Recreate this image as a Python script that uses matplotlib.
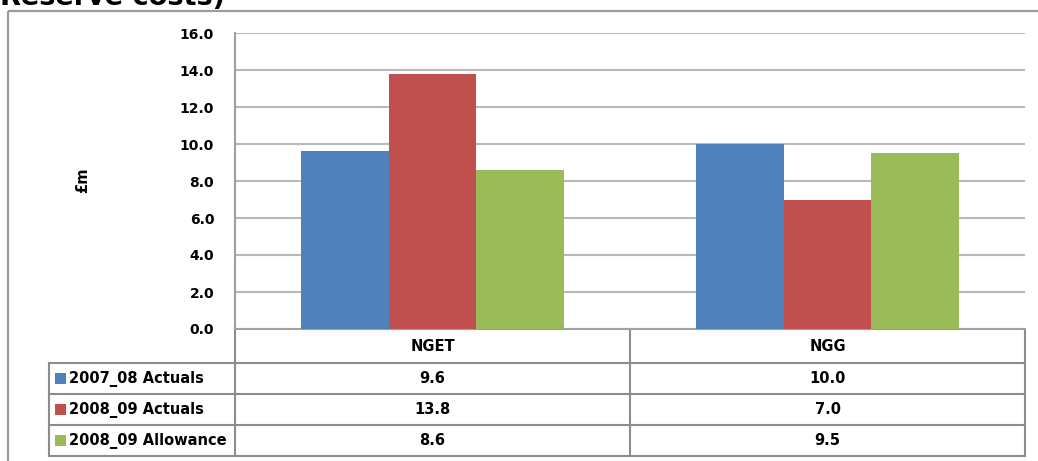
import matplotlib
matplotlib.use("Agg")
import matplotlib.pyplot as plt
from matplotlib.patches import Rectangle
from matplotlib.transforms import blended_transform_factory

# Data
categories = ["NGET", "NGG"]
series_names = ["2007_08 Actuals", "2008_09 Actuals", "2008_09 Allowance"]
actuals_0708 = [9.6, 10.0]
actuals_0809 = [13.8, 7.0]
allowance_0809 = [8.6, 9.5]
series_values = [actuals_0708, actuals_0809, allowance_0809]
series_colors = ["#4F81BD", "#C0504D", "#9BBB59"]
y_ticks = [0, 2, 4, 6, 8, 10, 12, 14, 16]

W, H = 1038, 461
fig = plt.figure(figsize=(W / 100, H / 100), dpi=100)
fig.patch.set_facecolor("white")

def frac(x0, y0, x1, y1):
    """Pixel box (top-left origin) -> figure fraction rect."""
    return [x0 / W, 1 - y1 / H, (x1 - x0) / W, (y1 - y0) / H]

# Overlay in pixel coordinates for frame and table
ov = fig.add_axes([0, 0, 1, 1], zorder=0)
ov.set_xlim(0, W)
ov.set_ylim(H, 0)
ov.axis("off")

frame_c = "#9C9C9C"
ov.plot([8, W + 5], [11, 11], color=frame_c, lw=1.6, solid_capstyle="butt")
ov.plot([8, 8], [11, H + 5], color=frame_c, lw=1.6, solid_capstyle="butt")

# Heading above the chart frame, running off the top edge
fig.text(0.0, 1 - 5 / H, "Reserve costs)", fontsize=19.5, fontweight="bold",
         ha="left", va="baseline", color="black")

# Main bar axes
ax = fig.add_axes(frac(235, 33, 1025, 329), zorder=1)
ax.patch.set_alpha(0)
n = len(series_values)
bar_w = 1 / (n + 1.5)
for j, (vals, col) in enumerate(zip(series_values, series_colors)):
    xs = [i + (j - (n - 1) / 2) * bar_w for i in range(len(categories))]
    ax.bar(xs, vals, width=bar_w, color=col, edgecolor="none", zorder=3)

ax.set_xlim(-0.5, len(categories) - 0.5)
ax.set_ylim(0, 16)
ax.set_yticks(y_ticks)
ax.set_yticklabels([f"{t:.1f}" for t in y_ticks], fontsize=10, fontweight="bold")
ax.tick_params(axis="y", length=0, pad=15)
ax.set_xticks([])
for s in ["top", "right"]:
    ax.spines[s].set_visible(False)
for s in ["left", "bottom"]:
    ax.spines[s].set_color("#A0A0A0")
    ax.spines[s].set_linewidth(1.5)
ax.yaxis.grid(True, color="#B8B8B8", linewidth=1.5, zorder=0)
ax.set_axisbelow(True)

fig.text(83 / W, 1 - 180 / H, "£m", rotation=90, fontsize=10.5,
         fontweight="bold", ha="center", va="center")

# Data table below the plot: x in category units, y in pixels
tr = blended_transform_factory(ax.transData, ov.transData)
grid_c = "#8C8C8C"
lw_t = 1.5
x_left_px = 49
row_edges = [363, 394, 425, 456]
header_top = 329

# Horizontal rules
for y in row_edges:
    ov.plot([x_left_px, 1025], [y, y], color=grid_c, lw=lw_t,
            solid_capstyle="projecting")
# Vertical rules
ov.plot([x_left_px, x_left_px], [363, 456], color=grid_c, lw=lw_t)
ov.plot([235, 235], [header_top, 456], color=grid_c, lw=lw_t)
for b in [k + 0.5 for k in range(len(categories))]:
    ov.plot([b, b], [header_top, 456], color=grid_c, lw=lw_t, transform=tr)

# Header row with category names
for i, cat in enumerate(categories):
    ov.text(i, (header_top + row_edges[0]) / 2, cat, transform=tr,
            ha="center", va="center", fontsize=10.5, fontweight="bold")

# Series rows: legend key, name, values
for j, (name, vals, col) in enumerate(zip(series_names, series_values, series_colors)):
    y0, y1 = row_edges[j], row_edges[j + 1]
    yc = (y0 + y1) / 2
    ov.add_patch(Rectangle((55, yc - 5.5), 11, 11, facecolor=col, edgecolor="none"))
    ov.text(69, yc, name, ha="left", va="center", fontsize=10.5, fontweight="bold")
    for i, v in enumerate(vals):
        ov.text(i, yc, f"{v:.1f}", transform=tr, ha="center", va="center",
                fontsize=10.5, fontweight="bold")

fig.savefig("out.png", dpi=100, facecolor="white")
